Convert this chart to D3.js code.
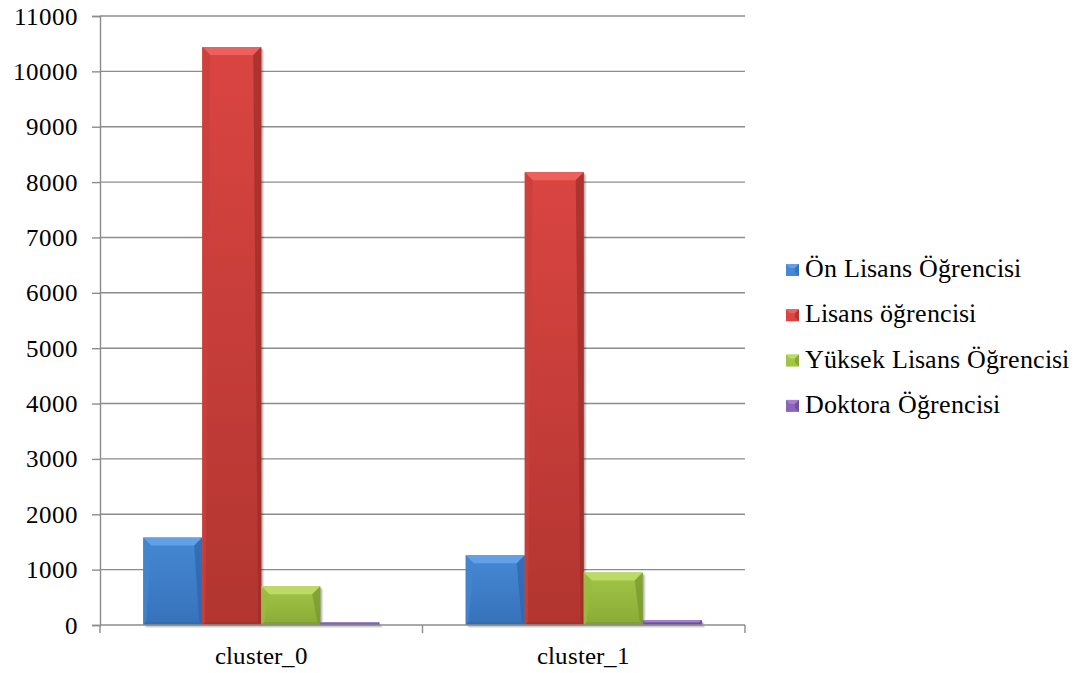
<!DOCTYPE html>
<html>
<head>
<meta charset="utf-8">
<script src="https://cdn.jsdelivr.net/npm/d3@7/dist/d3.min.js"></script>
<style>
  @font-face { font-family: "ChartSerif"; src: local("Liberation Serif"), local("LiberationSerif"), local("Liberation Serif Regular"), local("LiberationSerif-Regular"); }
  body { margin: 0; }
  .lbl { font-family: "ChartSerif", "Liberation Serif", serif; }
</style>
</head>
<body>
<svg id="chart" width="1090" height="673" font-family="Liberation Serif"></svg>
<script>
// Student counts per cluster, by education level
const categories = ["cluster_0", "cluster_1"];
const seriesNames = ["Ön Lisans Öğrencisi", "Lisans öğrencisi", "Yüksek Lisans Öğrencisi", "Doktora Öğrencisi"];
const onLisans = [1580, 1260];
const lisans = [10440, 8180];
const yuksekLisans = [700, 950];
const doktora = [50, 90];
const yTicks = [0, 1000, 2000, 3000, 4000, 5000, 6000, 7000, 8000, 9000, 10000, 11000];

const seriesValues = [onLisans, lisans, yuksekLisans, doktora];

// Face colours for each series: gradient ends and bevel faces
const palette = [
  { top: "#4688d4", bot: "#3672ba", bevelTop: "#62a0e8", left: "#4384d0", right: "#2f64a6", bottom: "#3268aa" },
  { top: "#da4542", bot: "#b23530", bevelTop: "#ec605d", left: "#c9403c", right: "#9a2c28", bottom: "#a0302c" },
  { top: "#a2c548", bot: "#8aab36", bevelTop: "#bcda66", left: "#9aba40", right: "#78952e", bottom: "#7a982e" },
  { top: "#8a66b8", bot: "#7555a0", bevelTop: "#a282d0", left: "#805eae", right: "#60458a", bottom: "#64488c" }
];

const svg = d3.select("#chart");
const plotLeft = 100, plotRight = 745, plotTop = 16, baseY = 625;

const x0 = d3.scaleBand().domain(categories).range([plotLeft, plotRight]).paddingInner(0.268).paddingOuter(0.134);
const x1 = d3.scaleBand().domain(seriesNames).range([0, x0.bandwidth()]);
const y = d3.scaleLinear().domain([0, 11000]).range([baseY, plotTop]);

const defs = svg.append("defs");
palette.forEach((p, i) => {
  const g = defs.append("linearGradient").attr("id", "grad" + i)
    .attr("x1", 0).attr("y1", 0).attr("x2", 0).attr("y2", 1);
  g.append("stop").attr("offset", "0%").attr("stop-color", p.top);
  g.append("stop").attr("offset", "100%").attr("stop-color", p.bot);
});

// Gridlines
const grid = svg.append("g").attr("class", "grid");
grid.selectAll("line").data(yTicks.filter(d => d > 0)).join("line")
  .attr("x1", plotLeft).attr("x2", plotRight)
  .attr("y1", d => y(d)).attr("y2", d => y(d))
  .attr("stroke", "#8c8c8c").attr("stroke-width", 1.4);

// Y axis
const yAxis = svg.append("g").attr("transform", `translate(${plotLeft},0)`)
  .call(d3.axisLeft(y).tickValues(yTicks).tickSize(8).tickPadding(14).tickFormat(d3.format("d")));
yAxis.attr("font-family", "Liberation Serif").attr("font-size", 25);
yAxis.select(".domain").attr("stroke", "#8c8c8c").attr("stroke-width", 1.4);
yAxis.selectAll(".tick line").attr("stroke", "#8c8c8c").attr("stroke-width", 1.4);
yAxis.selectAll(".tick text").attr("fill", "#000").attr("class", "lbl");

// Bars with bevelled faces and a soft offset shadow
const groups = svg.append("g").selectAll("g").data(categories).join("g")
  .attr("transform", d => `translate(${x0(d)},0)`);

groups.each(function(cat, ci) {
  const g = d3.select(this);
  seriesNames.forEach((name, si) => {
    const v = seriesValues[si][ci];
    const bx = x1(name), bw = x1.bandwidth();
    const by = y(v), bh = baseY - by;
    const p = palette[si];
    const bar = g.append("g");
    [[3, 0.08], [2, 0.12], [1, 0.14]].forEach(([o, a]) => {
      bar.append("rect").attr("x", bx + o).attr("y", by + o).attr("width", bw).attr("height", bh)
        .attr("fill", "#000").attr("opacity", a);
    });
    bar.append("rect").attr("x", bx).attr("y", by).attr("width", bw).attr("height", bh)
      .attr("fill", `url(#grad${si})`);
    const b = Math.min(8, bh / 2);
    const sb = Math.min(3, bh / 2);
    const x2 = bx + bw, y2 = by + bh;
    // top bevel
    bar.append("polygon")
      .attr("points", [[bx, by], [x2, by], [x2 - b, by + b], [bx + b, by + b]].join(" "))
      .attr("fill", p.bevelTop);
    // left bevel
    bar.append("polygon")
      .attr("points", [[bx, by], [bx + b, by + b], [bx + sb, y2 - sb], [bx, y2]].join(" "))
      .attr("fill", p.left).attr("opacity", 0.8);
    // right bevel
    bar.append("polygon")
      .attr("points", [[x2, by], [x2, y2], [x2 - sb, y2 - sb], [x2 - b, by + b]].join(" "))
      .attr("fill", p.right).attr("opacity", 0.7);
    // bottom bevel
    bar.append("polygon")
      .attr("points", [[bx, y2], [x2, y2], [x2 - sb, y2 - sb], [bx + sb, y2 - sb]].join(" "))
      .attr("fill", p.bottom).attr("opacity", 0.6);
  });
});

// X axis
const xAxisG = svg.append("g");
xAxisG.append("line").attr("x1", plotLeft).attr("x2", plotRight).attr("y1", baseY).attr("y2", baseY)
  .attr("stroke", "#8c8c8c").attr("stroke-width", 1.4);
const boundaries = [plotLeft, x0(categories[1]) - x0.step() * x0.paddingInner() / 2, plotRight];
xAxisG.selectAll("line.tk").data(boundaries).join("line").attr("class", "tk")
  .attr("x1", d => d).attr("x2", d => d).attr("y1", baseY).attr("y2", baseY + 8)
  .attr("stroke", "#8c8c8c").attr("stroke-width", 1.4);
xAxisG.selectAll("text").data(categories).join("text")
  .attr("class", "lbl")
  .attr("x", d => x0(d) + x0.bandwidth() / 2).attr("y", 664)
  .attr("text-anchor", "middle").attr("fill", "#000")
  .attr("font-size", 25)
  .text(d => d);

// Legend
const legend = svg.append("g").selectAll("g").data(seriesNames).join("g")
  .attr("transform", (d, i) => `translate(786, ${277 + i * 45.3})`);
legend.each(function(name, i) {
  const g = d3.select(this);
  const p = palette[i];
  g.append("rect").attr("x", 0).attr("y", -13).attr("width", 13).attr("height", 12).attr("fill", p.top);
  g.append("polygon").attr("points", [[0, -13], [13, -13], [9, -9], [4, -9]].join(" ")).attr("fill", p.bevelTop);
  g.append("polygon").attr("points", [[13, -13], [13, -1], [9, -5], [9, -9]].join(" ")).attr("fill", p.right).attr("opacity", 0.6);
  g.append("text").attr("class", "lbl").attr("x", 19).attr("y", 0).attr("fill", "#000")
    .attr("font-size", 25.5)
    .text(name);
});
</script>
</body>
</html>
